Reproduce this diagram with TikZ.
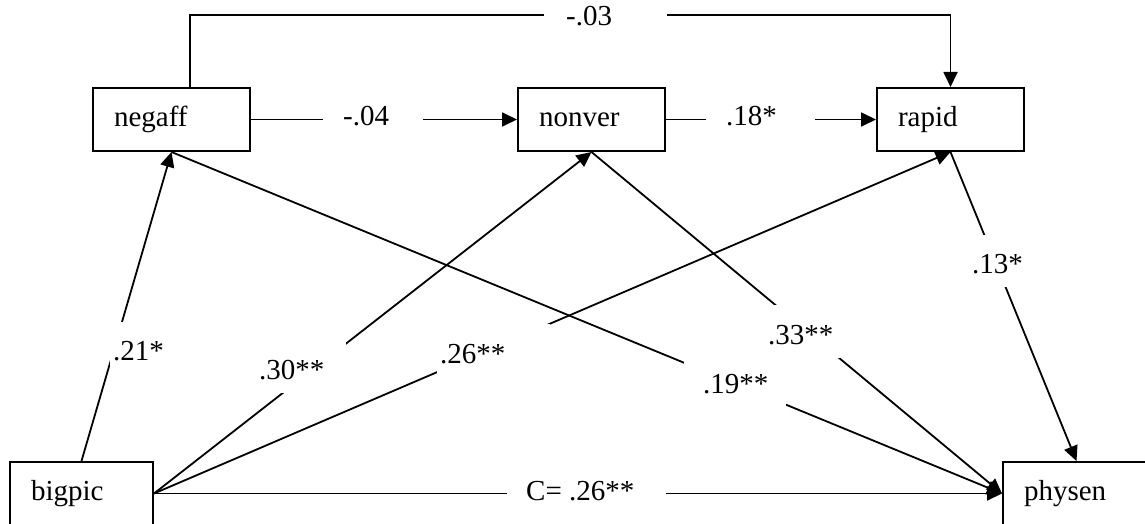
\documentclass[tikz,border=0pt]{standalone}
\usepackage{fontspec}
\setmainfont{Liberation Serif}
\usetikzlibrary{arrows.meta}
\newcommand\gaptext[3]{\hspace*{#1pt}#2\hspace*{#3pt}}
\begin{document}
\begin{tikzpicture}[x=1pt,y=-1pt,
  box/.style={draw, line width=2pt, minimum height=63pt, inner xsep=21pt, inner ysep=0pt,
    align=left, text height=20pt, text depth=6pt, font=\fontsize{29}{34}\selectfont},
  conn/.style={line width=1.8pt, -{Triangle[length=15pt,width=14pt]}},
  lbl/.style={fill=white, inner sep=0pt, anchor=base west, font=\fontsize{29}{34}\selectfont},
]
\fill[white] (0,0) rectangle (1145,524);
\useasboundingbox (0,0) rectangle (1145,524);

% boxes
\node[box, text width=115pt] (negaff) at (171.5,119.5) {negaff};
\node[box, text width=105pt] (nonver) at (591.5,119.5) {nonver};
\node[box, text width=105pt] (rapid)  at (950.5,119.5) {rapid};
\node[box, text width=101pt] (bigpic) at (81.5,493.5) {bigpic};
\node[box, text width=105pt] (physen) at (1076.5,493.5) {physen};

% connectors
\draw[conn] (bigpic.north) -- (negaff.south);
\draw[conn] (bigpic.east) -- (nonver.south);
\draw[conn] (bigpic.east) -- (rapid.south);
\draw[conn] (bigpic.east) -- (physen.west);
\draw[conn] (negaff.east) -- (nonver.west);
\draw[conn] (nonver.east) -- (rapid.west);
\draw[conn] (negaff.south) -- (physen.west);
\draw[conn] (nonver.south) -- (physen.west);
\draw[conn] (rapid.south) -- (physen.north);
\draw[conn] ([xshift=18.5pt]negaff.north) |- ([yshift=72.3pt]rapid.north) -- (rapid.north);

% labels
\node[lbl, text height=38.6pt, text depth=14pt] (l03) at (544,26)  {\gaptext{22}{-.03}{55}};
\node[lbl, text height=38.6pt, text depth=14pt] (l04) at (323,126) {\gaptext{20}{-.04}{34}};
\node[lbl, text height=38.6pt, text depth=14pt] (l18) at (706,126) {\gaptext{20}{.18*}{38}};
\node[lbl, text height=38.6pt, text depth=14pt] (lC)  at (507,500) {\gaptext{19}{C= .26**}{32}};
\node[lbl, text height=37.6pt, text depth=14pt] (l21) at (110,360) {\gaptext{3}{.21*}{35}};
\node[lbl, text height=38.6pt, text depth=14pt] (l30) at (239,379) {\gaptext{20}{.30**}{22}};
\node[lbl, text height=38.6pt, text depth=14pt] (l26) at (437,363) {\gaptext{3}{.26**}{45}};
\node[lbl, text height=38.6pt, text depth=14pt] (l19) at (684,393) {\gaptext{19}{.19**}{18}};
\node[lbl, text height=38.6pt, text depth=14pt] (l33) at (748,344) {\gaptext{20}{.33**}{15}};
\node[lbl, text height=37.6pt, text depth=14pt] (l13) at (952,273) {\gaptext{20}{.13*}{20}};
\end{tikzpicture}
\end{document}
